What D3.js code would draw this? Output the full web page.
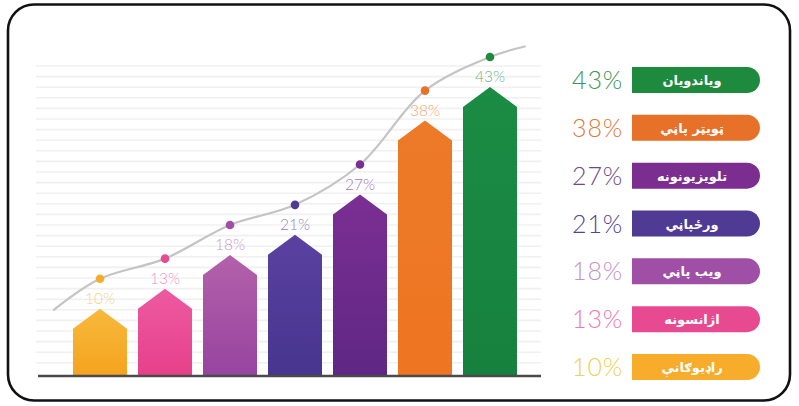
<!DOCTYPE html>
<html><head><meta charset="utf-8">
<script src="https://cdn.jsdelivr.net/npm/d3@7"></script>
<style>html,body{margin:0;padding:0;background:#fff;}svg{display:block;}</style>
</head><body>
<svg id="c" width="799" height="406"></svg>
<script>
const categories = ["راډیوګانې","اژانسونه","ویب پاڼي","ورځپاڼي","تلویزیونونه","ټویټر پاڼي","ویاندویان"];
const values = [10,13,18,21,27,38,43];
const colorsTop = ["#f8b93c","#ec5aa0","#b461ab","#5a41a0","#7b2f92","#ec7a28","#1b8c44"];
const colorsBot = ["#f4a31f","#e7408b","#96449f","#47358f","#5f2784","#ee7521","#16813e"];
const pillColors = ["#f7ad2b","#e84a92","#a04fa6","#4f3b94","#7b2e8f","#e8712a","#1e8a3e"];
const pctColors = ["#f0d050","#f07aae","#c493c6","#4f4590","#6d4a86","#e07a3b","#3f9459"];
const labelFmt = v => v + "%";
// curve lead-in/lead-out (value units, band positions)
const curveStart = {pos:-0.72, value:5.3};
const curveEnd = {pos:6.55, value:44.6};

const svg = d3.select("#c");

// outer frame
svg.append("rect").attr("x",8).attr("y",4.5).attr("width",782).attr("height",396)
  .attr("rx",26).attr("fill","#fff").attr("stroke","#111").attr("stroke-width",2.6);

const baseY = 376;
const x = d3.scaleBand().domain(d3.range(categories.length)).range([73, 517]).paddingInner(0.169).paddingOuter(0);
const y = d3.scaleLinear().domain([0,43]).range([baseY, 87]);

// faint gridlines
const g = svg.append("g");
d3.range(66, 370, 10.6).forEach(py => {
  g.append("line").attr("x1",36).attr("x2",541).attr("y1",py).attr("y2",py)
    .attr("stroke","#f0f0f0").attr("stroke-width",1.6);
});

// gradients
const defs = svg.append("defs");
values.forEach((v,i)=>{
  const lg = defs.append("linearGradient").attr("id","g"+i).attr("x1",0).attr("x2",0).attr("y1",0).attr("y2",1);
  lg.append("stop").attr("offset","0%").attr("stop-color",colorsTop[i]);
  lg.append("stop").attr("offset","100%").attr("stop-color",colorsBot[i]);
});

// bars (house shapes)
const roof = 20;
svg.append("g").selectAll("path").data(values).join("path")
  .attr("d",(v,i)=>{
    const x0 = x(i), x1 = x(i)+x.bandwidth(), xm = x(i)+x.bandwidth()/2;
    const py = y(v);
    return `M${x0},${baseY}L${x0},${py+roof}L${xm},${py}L${x1},${py+roof}L${x1},${baseY}Z`;
  })
  .attr("fill",(v,i)=>`url(#g${i})`);

// baseline
svg.append("line").attr("x1",38).attr("x2",541).attr("y1",baseY).attr("y2",baseY)
  .attr("stroke","#4a4a4a").attr("stroke-width",2.6);

// curve
const cx = p => x(0) + x.bandwidth()/2 + p*x.step();
const dotOff = 30;
const pts = [[cx(curveStart.pos), y(curveStart.value)-dotOff]]
  .concat(values.map((v,i)=>[cx(i), y(v)-dotOff]))
  .concat([[cx(curveEnd.pos), y(curveEnd.value)-dotOff]]);
svg.append("path").attr("d", d3.line().curve(d3.curveCatmullRom.alpha(0.5))(pts))
  .attr("fill","none").attr("stroke","#c4c4c4").attr("stroke-width",2.2);

// dots
svg.append("g").selectAll("circle").data(values).join("circle")
  .attr("cx",(v,i)=>cx(i)).attr("cy",v=>y(v)-dotOff).attr("r",4.3)
  .attr("fill",(v,i)=>pillColors[i]);

// value labels
svg.append("g").selectAll("text").data(values).join("text")
  .attr("x",(v,i)=>cx(i)).attr("y",v=>y(v)-5)
  .attr("text-anchor","middle").attr("font-family","Lato, 'Open Sans', sans-serif")
  .attr("font-weight",300).attr("font-size",15.5)
  .attr("fill",(v,i)=>colorsTop[i]).attr("fill-opacity",0.7)
  .text(labelFmt);

// legend
const rowY = d3.scalePoint().domain(d3.range(categories.length).reverse()).range([80,367]);
const pillX = 632, pillW = 128, pillH = 26;
const leg = svg.append("g").selectAll("g").data(categories).join("g")
  .attr("transform",(c,i)=>`translate(0,${rowY(i)})`);
leg.append("path").attr("d",()=>{
  const r = pillH/2, x0 = pillX, x1 = pillX+pillW;
  return `M${x0},${-r}L${x1-r},${-r}A${r},${r} 0 0 1 ${x1-r},${r}L${x0},${r}Z`;
}).attr("fill",(c,i)=>pillColors[i]);
leg.append("text").attr("x",pillX+pillW/2-4).attr("y",5)
  .attr("text-anchor","middle").attr("font-family","'DejaVu Sans', sans-serif")
  .attr("font-weight","bold").attr("font-size",13).attr("fill","#fff")
  .attr("direction","rtl")
  .text(c=>c);
leg.append("text").attr("x",623).attr("y",9)
  .attr("text-anchor","end").attr("font-family","Lato, 'Open Sans', sans-serif")
  .attr("font-weight",300).attr("font-size",25).attr("letter-spacing",0.8)
  .attr("fill",(c,i)=>pctColors[i])
  .text((c,i)=>labelFmt(values[i]));
</script>
</body></html>
